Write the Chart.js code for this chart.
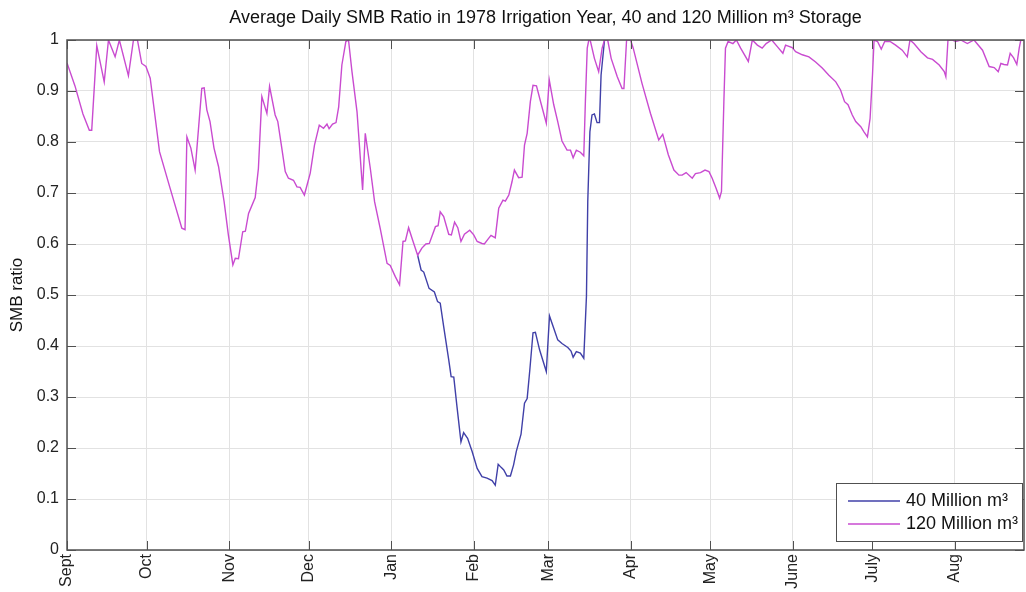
<!DOCTYPE html>
<html>
<head>
<meta charset="utf-8">
<title>Average Daily SMB Ratio 1978</title>
<script src="https://cdn.jsdelivr.net/npm/chart.js@4.4.0/dist/chart.umd.min.js"></script>
<style>
  html, body { margin: 0; padding: 0; background: #fff; }
</style>
</head>
<body>
<canvas id="smbChart" width="1026" height="592"></canvas>
<script>
// x axis: day of irrigation year, 0 = 1 Sept
const monthNames = ["Sept", "Oct", "Nov", "Dec", "Jan", "Feb", "Mar", "Apr", "May", "June", "July", "Aug"];
const monthStartDays = [0, 30, 61, 91, 122, 153, 181, 212, 242, 273, 303, 334];

// 120 Million m3 storage
const days120 = [
  0, 3, 6, 8.4, 9.3, 11.2, 14, 15.6, 18.1, 19.7, 23.1, 25, 26.5, 28.1, 29.7, 31.3, 34.8, 38.8, 43.2, 44.4,
  45.1, 46.6, 48.2, 50.7, 51.6, 52.6, 53.8, 55.3, 57, 59.1, 60.7, 62.4, 63.3, 64.5, 66.1, 67.1, 68.3, 70.8, 72, 73.3,
  75.2, 76.2, 78.3, 79.3, 80.8, 82.1, 83.3, 85.2, 86.5, 87.7, 89.3, 91.5, 93.1, 94.9, 96.5, 97.8, 98.6, 99.9, 101.2, 102.2,
  103.4, 104.9, 105.9, 107.2, 109.1, 111.2, 112.2, 114.1, 115.7, 117.8, 120.4, 121.6, 123.5, 125.1, 126.4, 127.3, 128.5, 130, 131.9, 133.5,
  135, 136.3, 138.6, 139.6, 140.4, 141.7, 143.6, 144.6, 145.8, 147, 148.2, 149.5, 151.5, 153, 154.3, 156.1, 157, 158.6, 159.5, 161.1,
  162.4, 164, 164.9, 166.2, 167.4, 168.3, 169.9, 171.2, 172.1, 173.1, 174.3, 175.3, 176.6, 178.3, 180.3, 181.4, 183.1, 184.6, 186.2, 188.1,
  189.4, 190.4, 191.6, 193.1, 194.4, 195, 195.7, 196.3, 196.8, 198.4, 200, 201.3, 202.2, 203.4, 204.7, 207, 208.8, 209.5, 210.5, 212,
  213, 216.3, 219.5, 222.6, 224.1, 226.2, 228.3, 230.2, 231.4, 232.9, 235.2, 236.4, 238.3, 240, 241.5, 242.7, 244.2, 245.5, 246.2, 247.1,
  247.7, 248.7, 250.5, 251.8, 253.4, 256.3, 257.8, 259.7, 261.5, 263, 265.1, 267.2, 269.3, 270.3, 272.8, 274.1, 276.6, 279.1, 281.6, 284.1,
  286.6, 289.2, 291, 292.5, 293.8, 295.4, 296.7, 298.6, 299.8, 301.1, 302.1, 303, 303.6, 304.9, 306.3, 307.6, 309.6, 311.7, 314.2, 316.1,
  317.1, 318.6, 321.2, 323.7, 325.6, 328.1, 330, 330.6, 331.4, 333.1, 334.3, 336.2, 338.7, 341.2, 344.4, 346.9, 348.8, 350.3, 351.3, 352.5,
  353.8, 354.8, 356.1, 357.3, 358.2, 358.8, 360.3
];
const smb120 = [
  0.955, 0.91, 0.855, 0.823, 0.823, 0.989, 0.918, 1.0, 0.967, 1.0, 0.93, 1.0, 1.0, 0.954, 0.948, 0.925, 0.781, 0.709, 0.631, 0.628,
  0.81, 0.788, 0.745, 0.905, 0.906, 0.863, 0.84, 0.788, 0.752, 0.683, 0.618, 0.559, 0.572, 0.571, 0.624, 0.625, 0.66, 0.691, 0.748, 0.889,
  0.856, 0.909, 0.853, 0.84, 0.788, 0.742, 0.729, 0.725, 0.712, 0.711, 0.696, 0.739, 0.794, 0.833, 0.827, 0.835, 0.826, 0.835, 0.838, 0.869,
  0.951, 0.997, 1.0, 0.938, 0.859, 0.706, 0.817, 0.748, 0.683, 0.631, 0.562, 0.558, 0.536, 0.52, 0.605, 0.606, 0.632, 0.608, 0.578, 0.592,
  0.6, 0.601, 0.634, 0.636, 0.663, 0.654, 0.619, 0.618, 0.643, 0.632, 0.605, 0.619, 0.627, 0.618, 0.605, 0.601, 0.6, 0.611, 0.617, 0.612,
  0.67, 0.686, 0.684, 0.696, 0.722, 0.745, 0.73, 0.731, 0.794, 0.817, 0.879, 0.911, 0.91, 0.876, 0.837, 0.922, 0.873, 0.84, 0.802, 0.784,
  0.784, 0.769, 0.784, 0.78, 0.773, 0.879, 0.984, 1.0, 1.0, 0.964, 0.938, 0.984, 1.0, 1.0, 0.964, 0.928, 0.905, 0.905, 1.0, 1.0,
  0.984, 0.915, 0.856, 0.804, 0.815, 0.775, 0.745, 0.735, 0.735, 0.74, 0.729, 0.738, 0.74, 0.745, 0.742, 0.729, 0.709, 0.69, 0.703, 0.879,
  0.984, 0.997, 0.993, 1.0, 0.984, 0.958, 1.0, 0.99, 0.984, 0.993, 1.0, 0.987, 0.974, 0.99, 0.985, 0.977, 0.971, 0.967, 0.957, 0.945,
  0.931, 0.918, 0.902, 0.879, 0.873, 0.853, 0.84, 0.83, 0.82, 0.81, 0.846, 0.931, 1.0, 0.997, 0.982, 0.997, 0.997, 0.99, 0.98, 0.967,
  1.0, 0.993, 0.977, 0.965, 0.962, 0.951, 0.938, 0.928, 1.0, 1.0, 0.997, 1.0, 0.993, 1.0, 0.98, 0.948, 0.946, 0.938, 0.954, 0.952,
  0.951, 0.974, 0.965, 0.952, 0.984, 1.0, 1.0
];

// 40 Million m3 storage (same as 120 outside this stretch, hidden underneath)
const days40 = [
  131.9, 133.2, 134.2, 136.2, 138.2, 139.4, 140.4, 141.7, 143.6, 144.5, 145.5, 146.7, 148.2, 149.2, 150.7, 152.4, 154.3, 156.1, 158, 159.9,
  161.1, 162.2, 163.3, 164.3, 165.5, 166.8, 168, 169, 170.8, 172.1, 173.1, 174.1, 175.3, 176.2, 177.8, 180.3, 181.5, 183.1, 184.6, 186.2,
  188.4, 189.6, 190.4, 191.6, 193.1, 194.4, 195.4, 195.9, 196.7, 197.5, 198.4, 199.4, 200.3, 200.9, 202.2
];
const smb40 = [
  0.578, 0.549, 0.545, 0.513, 0.506, 0.487, 0.484, 0.438, 0.373, 0.34, 0.339, 0.281, 0.212, 0.23, 0.219, 0.193, 0.16, 0.144, 0.141, 0.136,
  0.127, 0.168, 0.162, 0.157, 0.145, 0.145, 0.167, 0.193, 0.227, 0.288, 0.297, 0.353, 0.426, 0.427, 0.392, 0.35, 0.459, 0.435, 0.412, 0.405,
  0.397, 0.39, 0.378, 0.389, 0.386, 0.376, 0.497, 0.683, 0.82, 0.853, 0.855, 0.838, 0.838, 0.931, 1.0
];

const titleText = "Average Daily SMB Ratio in 1978 Irrigation Year, 40 and 120 Million m\u00b3 Storage";
const fontFamily = "'Liberation Sans', Arial, Helvetica, sans-serif";
const blueColor = "#4040a8";
const magentaColor = "#c94bd0";

Chart.defaults.font.family = fontFamily;
Chart.defaults.color = "#222";

function toPoints(xs, ys) {
    return xs.map((d, i) => ({ x: d, y: ys[i] }));
}

// title drawn above the plot box
const titlePlugin = {
    id: "plotTitle",
    afterDraw(chart) {
        const { ctx, chartArea } = chart;
        ctx.save();
        ctx.font = "18px " + fontFamily;
        ctx.fillStyle = "#111";
        ctx.textAlign = "center";
        ctx.textBaseline = "middle";
        ctx.fillText(titleText, (chartArea.left + chartArea.right) / 2, 18);
        ctx.restore();
    }
};

// matlab style box with inward ticks
const axesBoxPlugin = {
    id: "axesBox",
    afterDatasetsDraw(chart) {
        const { ctx, chartArea: a, scales } = chart;
        ctx.save();
        ctx.strokeStyle = "#505050";
        ctx.lineWidth = 1.5;
        ctx.strokeRect(a.left, a.top, a.right - a.left, a.bottom - a.top);
        ctx.lineWidth = 1;
        ctx.beginPath();
        scales.x.ticks.forEach(t => {
            const px = Math.round(scales.x.getPixelForValue(t.value)) + 0.5;
            ctx.moveTo(px, a.bottom); ctx.lineTo(px, a.bottom - 9);
            ctx.moveTo(px, a.top); ctx.lineTo(px, a.top + 9);
        });
        scales.y.ticks.forEach(t => {
            const py = Math.round(scales.y.getPixelForValue(t.value)) + 0.5;
            ctx.moveTo(a.left, py); ctx.lineTo(a.left + 9, py);
            ctx.moveTo(a.right, py); ctx.lineTo(a.right - 9, py);
        });
        ctx.stroke();
        ctx.restore();
    }
};

// legend box in the lower right corner of the plot
const boxLegendPlugin = {
    id: "boxLegend",
    afterDraw(chart) {
        const { ctx, chartArea: a } = chart;
        const w = 186, h = 58;
        const x0 = a.right - w - 2, y0 = a.bottom - h - 9;
        ctx.save();
        ctx.fillStyle = "#fff";
        ctx.fillRect(x0, y0, w, h);
        ctx.strokeStyle = "#505050";
        ctx.lineWidth = 1;
        ctx.strokeRect(x0 + 0.5, y0 + 0.5, w, h);
        ctx.font = "18px " + fontFamily;
        ctx.textBaseline = "middle";
        chart.data.datasets.forEach((ds, i) => {
            const yy = y0 + 18 + i * 23;
            ctx.strokeStyle = ds.borderColor;
            ctx.lineWidth = 1.3;
            ctx.beginPath();
            ctx.moveTo(x0 + 12, yy);
            ctx.lineTo(x0 + 64, yy);
            ctx.stroke();
            ctx.fillStyle = "#111";
            ctx.fillText(ds.label, x0 + 70, yy);
        });
        ctx.restore();
    }
};

new Chart(document.getElementById("smbChart").getContext("2d"), {
    type: "line",
    data: {
        datasets: [
            { label: "40 Million m\u00b3", data: toPoints(days40, smb40), borderColor: blueColor, borderWidth: 1.4, pointRadius: 0, tension: 0, order: 1 },
            { label: "120 Million m\u00b3", data: toPoints(days120, smb120), borderColor: magentaColor, borderWidth: 1.4, pointRadius: 0, tension: 0, order: 0 }
        ]
    },
    options: {
        responsive: false,
        animation: false,
        layout: { padding: { top: 40, right: 2, left: 0, bottom: 0 } },
        plugins: {
            legend: { display: false },
            title: { display: false },
            tooltip: { enabled: false }
        },
        scales: {
            x: {
                type: "linear",
                min: 0,
                max: 360,
                bounds: "data",
                afterBuildTicks: s => { s.ticks = monthStartDays.map(v => ({ value: v })); },
                afterFit: s => { s.height = 42; s.paddingLeft = 0; s.paddingRight = 0; },
                ticks: {
                    autoSkip: false,
                    minRotation: 90,
                    maxRotation: 90,
                    padding: 4,
                    font: { size: 16 },
                    color: "#222",
                    callback: (v, i) => monthNames[i]
                },
                grid: { color: "#e2e2e2", drawTicks: false },
                border: { display: false }
            },
            y: {
                min: 0,
                max: 1,
                afterFit: s => { s.width = 67; },
                ticks: {
                    stepSize: 0.1,
                    padding: 8,
                    font: { size: 16 },
                    color: "#222",
                    callback: v => String(Number(v.toFixed(1)))
                },
                grid: { color: "#e2e2e2", drawTicks: false },
                border: { display: false },
                title: { display: true, text: "SMB ratio", font: { size: 17 }, color: "#111", padding: { top: 7, bottom: 0 } }
            }
        }
    },
    plugins: [axesBoxPlugin, boxLegendPlugin, titlePlugin]
});
</script>
</body>
</html>
